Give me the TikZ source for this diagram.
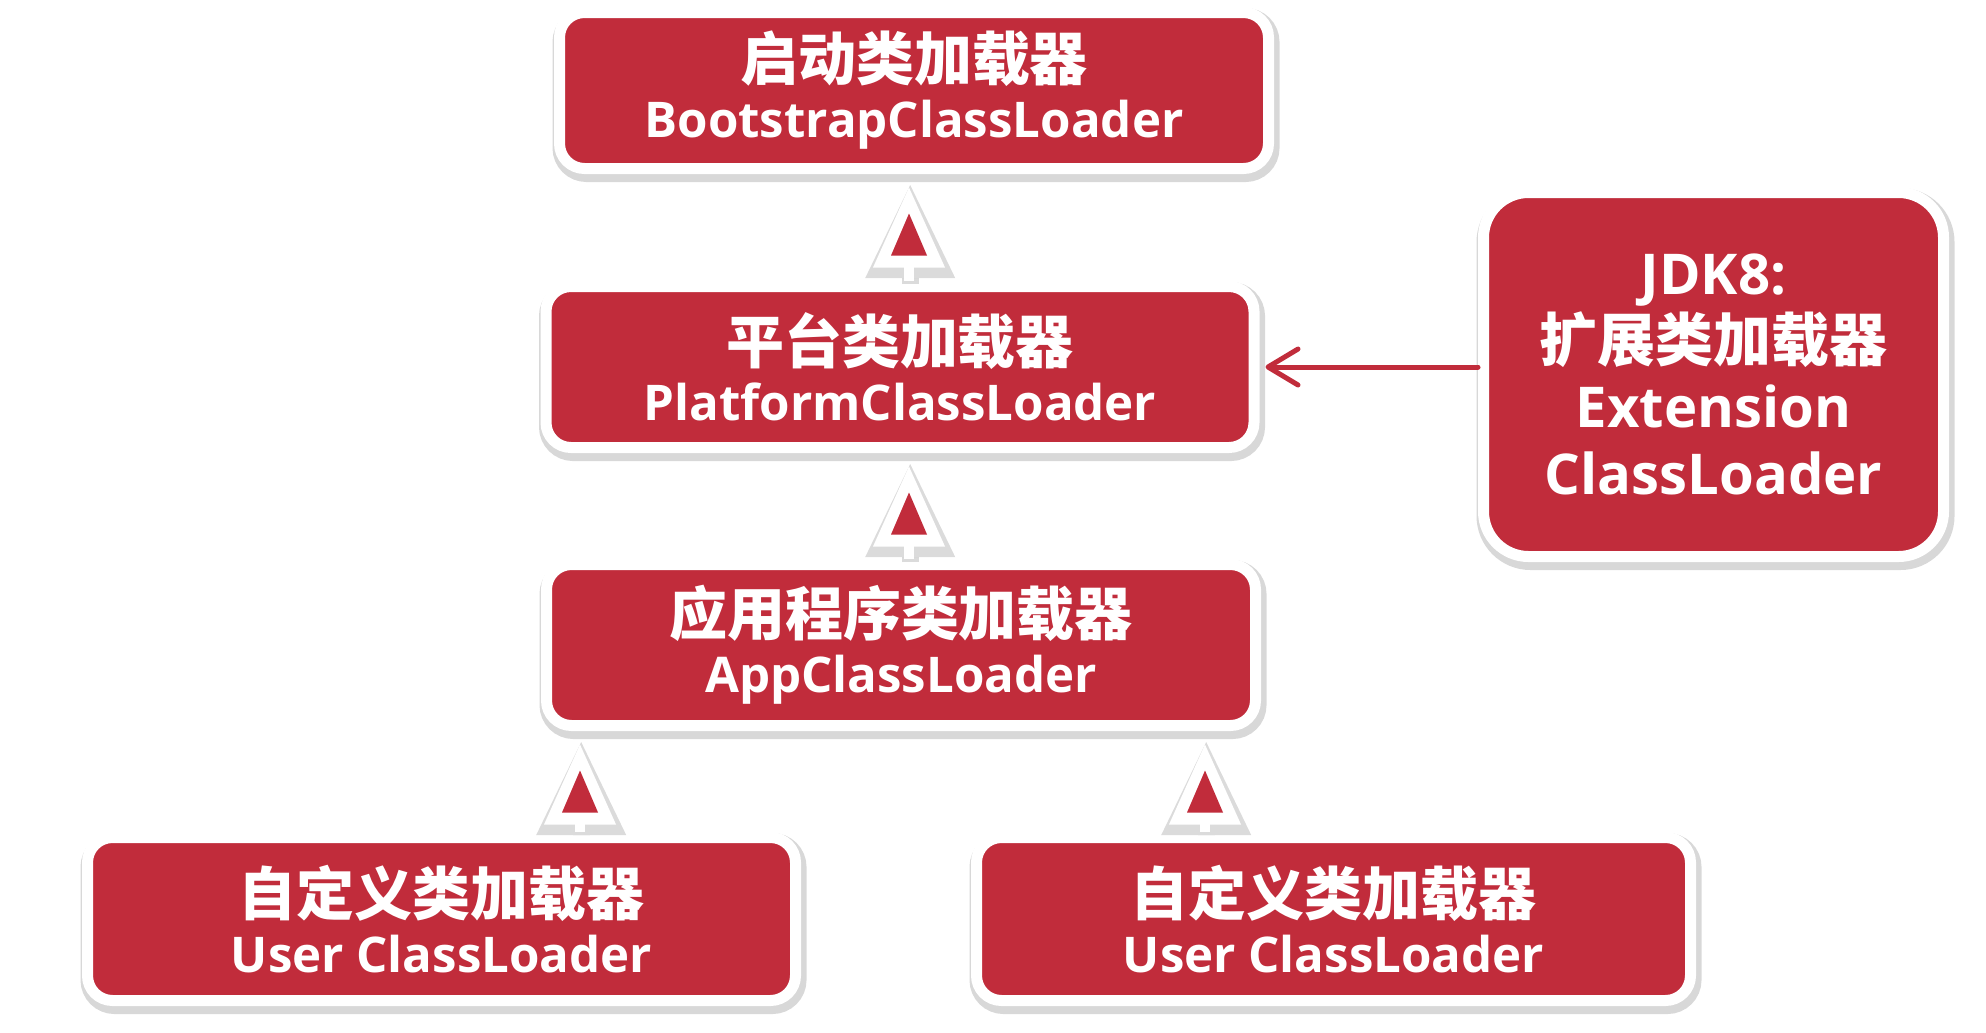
\documentclass[tikz,border=0pt]{standalone}
\usepackage{fontspec}
\setmainfont{Open Sans}
\newfontfamily\cjk{Noto Sans CJK SC}
\usetikzlibrary{arrows.meta,shadows}
\definecolor{loaderred}{RGB}{193,44,59}
\newcommand{\zhtext}[1]{{\cjk\fontsize{16.5}{16.2}\selectfont #1}}

\begin{document}
\begin{tikzpicture}[
	loader/.style={fill=loaderred, draw=white, line width=0.11cm, rounded corners=0.25cm, text=white, align=center, inner sep=0pt,
		font=\bfseries\fontsize{14}{16.2}\selectfont,
		drop shadow={shadow xshift=0.02cm, shadow yshift=-0.045cm, opacity=0.22, fill=black!70, draw=black!70, line width=0.18cm}},
	stemshade/.style={black!70, opacity=0.2, line width=0.17cm, shorten >=0.08cm, -{Triangle[length=0.93cm,width=0.9cm,line width=0pt]},
		transform canvas={shift={(0.012cm,-0.03cm)}}},
	stem/.style={white, line width=0.1cm, shorten >=0.135cm, -{Triangle[length=0.8cm,width=0.72cm,line width=0pt]}},
	stemred/.style={white, line width=0.1cm, shorten >=0.395cm, -{Triangle[length=0.42cm,width=0.36cm,line width=0pt,color=loaderred]}},
	feed/.style={loaderred, line width=0.05cm, line cap=round, shorten >=0.06cm, -{Straight Barb[length=0.3cm,width=0.36cm,round]}}
	]
	\useasboundingbox (0,0) rectangle (19.86,10.32);
	
	%BOXES
	\node[loader, minimum width=7.09cm, minimum height=1.56cm] (boot) at (9.14,9.415) {\zhtext{启动类加载器}\\BootstrapClassLoader};
	\node[loader, minimum width=7.08cm, minimum height=1.61cm] (platform) at (9.0,6.65) {\zhtext{平台类加载器}\\PlatformClassLoader};
	\node[loader, minimum width=7.09cm, minimum height=1.61cm] (app) at (9.01,3.87) {\zhtext{应用程序类加载器}\\AppClassLoader};
	\node[loader, minimum width=7.08cm, minimum height=1.63cm] (userA) at (4.415,1.13) {\zhtext{自定义类加载器}\\User ClassLoader};
	\node[loader, minimum width=7.14cm, minimum height=1.63cm] (userB) at (13.335,1.13) {\zhtext{自定义类加载器}\\User ClassLoader};
	\node[loader, rounded corners=0.45cm, minimum width=4.6cm, minimum height=3.64cm, font=\bfseries\fontsize{16}{19}\selectfont] (ext) at (17.135,6.575)
		{JDK8:\\\zhtext{扩展类加载器}\\Extension\\ClassLoader};
	
	%ARROWS (white outline, red inner triangle)
	\foreach \lo/\hi/\x in {platform/boot/9.09, app/platform/9.09, userA/app/5.80, userB/app/12.05}{
		\draw[stemshade] (\lo.north -| \x,0) -- (\hi.south -| \x,0);
		\draw[stem] (\lo.north -| \x,0) -- (\hi.south -| \x,0);
		\draw[stemred] (\lo.north -| \x,0) -- (\hi.south -| \x,0);
	}
	%
	\draw[feed] (ext.west |- platform.east) -- (platform.east);
\end{tikzpicture}
\end{document}
